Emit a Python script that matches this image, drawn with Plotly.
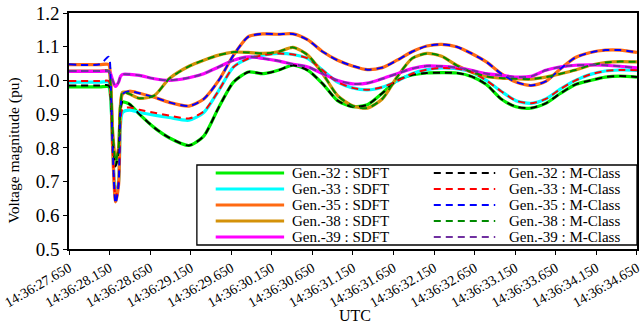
import plotly.graph_objects as go

# time in seconds after 14:36:00
T = [27.650, 28.029, 28.139, 28.163, 28.188, 28.224, 28.261, 28.285, 28.310,
     28.395, 28.517, 28.701, 28.884, 29.128, 29.311, 29.495, 29.678, 29.861,
     30.044, 30.228, 30.411, 30.594, 30.777, 30.960, 31.144, 31.327, 31.510,
     31.693, 31.877, 32.060, 32.243, 32.426, 32.610, 32.793, 32.976, 33.159,
     33.343, 33.526, 33.709, 33.892, 34.076, 34.259, 34.442, 34.650]

TICK_VALS = [27.65, 28.15, 28.65, 29.15, 29.65, 30.15, 30.65, 31.15, 31.65,
             32.15, 32.65, 33.15, 33.65, 34.15, 34.65]
TICK_LABELS = ["14:36:27.650", "14:36:28.150", "14:36:28.650", "14:36:29.150",
               "14:36:29.650", "14:36:30.150", "14:36:30.650", "14:36:31.150",
               "14:36:31.650", "14:36:32.150", "14:36:32.650", "14:36:33.150",
               "14:36:33.650", "14:36:34.150", "14:36:34.650"]

SDFT_32 = [0.981, 0.981, 0.981, 0.95, 0.83, 0.75, 0.79, 0.92, 0.936,
           0.93, 0.90, 0.86, 0.83, 0.807, 0.835, 0.92, 0.995, 1.025, 1.02, 1.03,
           1.045, 1.03, 0.99, 0.94, 0.922, 0.928, 0.962, 1.0, 1.016, 1.022, 1.023,
           1.022, 1.012, 0.988, 0.945, 0.922, 0.918, 0.932, 0.962, 0.988, 1.0,
           1.01, 1.013, 1.01]
SDFT_33 = [0.995, 0.995, 0.995, 0.96, 0.80, 0.66, 0.70, 0.87, 0.905,
           0.912, 0.905, 0.897, 0.89, 0.882, 0.905, 0.97, 1.04, 1.065, 1.075, 1.08,
           1.077, 1.065, 1.03, 0.995, 0.978, 0.972, 0.98, 0.998, 1.02, 1.032, 1.037,
           1.035, 1.025, 1.0, 0.968, 0.94, 0.932, 0.945, 0.975, 1.0, 1.018,
           1.028, 1.031, 1.03]
SDFT_35 = [1.047, 1.047, 1.047, 1.0, 0.80, 0.64, 0.69, 0.92, 0.96,
           0.968, 0.962, 0.95, 0.935, 0.924, 0.945, 1.0, 1.075, 1.13, 1.138, 1.137,
           1.138, 1.12, 1.085, 1.06, 1.043, 1.032, 1.038, 1.06, 1.085, 1.102, 1.107,
           1.1, 1.08, 1.055, 1.02, 0.995, 0.985, 0.997, 1.035, 1.068, 1.083,
           1.09, 1.09, 1.083]
SDFT_38 = [1.028, 1.028, 1.028, 0.99, 0.85, 0.765, 0.80, 0.93, 0.965,
           0.96, 0.947, 0.955, 1.005, 1.042, 1.06, 1.075, 1.084, 1.083, 1.08, 1.085,
           1.098, 1.075, 1.02, 0.955, 0.925, 0.918, 0.945, 1.01, 1.065, 1.08, 1.072,
           1.045, 1.025, 1.012, 1.007, 1.005, 1.004, 1.01, 1.02, 1.031, 1.045,
           1.053, 1.056, 1.055]
SDFT_39 = [1.027, 1.027, 1.027, 1.02, 1.0, 0.982, 0.995, 1.012, 1.018,
           1.018, 1.015, 1.005, 1.0, 1.008, 1.02, 1.04, 1.06, 1.07, 1.065, 1.058,
           1.048, 1.04, 1.02, 1.0, 0.99, 0.992, 1.005, 1.02, 1.035, 1.043, 1.042,
           1.038, 1.03, 1.02, 1.015, 1.01, 1.012, 1.03, 1.04, 1.045,
           1.046, 1.045, 1.042, 1.037]

MCLASS_32 = [0.985, 0.985, 0.985, 0.95, 0.83, 0.745, 0.79, 0.92, 0.936,
             0.93, 0.90, 0.86, 0.83, 0.807, 0.835, 0.92, 0.995, 1.025, 1.02, 1.03,
             1.045, 1.03, 0.99, 0.94, 0.922, 0.928, 0.962, 1.0, 1.016, 1.022, 1.023,
             1.022, 1.012, 0.988, 0.945, 0.922, 0.918, 0.932, 0.962, 0.988, 1.0,
             1.01, 1.013, 1.01]
MCLASS_33 = [0.998, 0.998, 0.998, 0.96, 0.80, 0.65, 0.70, 0.88, 0.915,
             0.92, 0.913, 0.904, 0.896, 0.887, 0.908, 0.97, 1.04, 1.065, 1.075, 1.08,
             1.077, 1.065, 1.03, 0.995, 0.978, 0.972, 0.98, 0.998, 1.02, 1.032, 1.037,
             1.035, 1.025, 1.0, 0.968, 0.94, 0.932, 0.945, 0.975, 1.0, 1.018,
             1.028, 1.031, 1.03]
MCLASS_35 = [1.048, 1.048, 1.07, 1.0, 0.80, 0.635, 0.69, 0.92, 0.96,
             0.968, 0.962, 0.95, 0.935, 0.924, 0.945, 1.0, 1.075, 1.13, 1.138, 1.137,
             1.138, 1.12, 1.085, 1.06, 1.043, 1.032, 1.038, 1.06, 1.085, 1.102, 1.107,
             1.1, 1.08, 1.055, 1.02, 0.995, 0.985, 0.997, 1.035, 1.068, 1.083,
             1.09, 1.09, 1.083]
MCLASS_38 = [1.028, 1.028, 1.028, 0.99, 0.85, 0.76, 0.80, 0.93, 0.965,
             0.96, 0.947, 0.955, 1.005, 1.042, 1.06, 1.075, 1.084, 1.083, 1.08, 1.085,
             1.098, 1.075, 1.02, 0.955, 0.925, 0.918, 0.945, 1.01, 1.065, 1.08, 1.072,
             1.045, 1.025, 1.012, 1.007, 1.005, 1.004, 1.01, 1.02, 1.031, 1.045,
             1.053, 1.056, 1.055]
MCLASS_39 = [1.028, 1.028, 1.028, 1.02, 1.0, 0.982, 0.995, 1.012, 1.018,
             1.018, 1.015, 1.005, 1.0, 1.008, 1.02, 1.04, 1.06, 1.07, 1.065, 1.058,
             1.048, 1.04, 1.02, 1.0, 0.99, 0.992, 1.005, 1.02, 1.035, 1.043, 1.042,
             1.038, 1.03, 1.02, 1.015, 1.01, 1.012, 1.03, 1.04, 1.045,
             1.046, 1.045, 1.042, 1.037]

GENS = ["32", "33", "35", "38", "39"]
SDFT = [SDFT_32, SDFT_33, SDFT_35, SDFT_38, SDFT_39]
MCLASS = [MCLASS_32, MCLASS_33, MCLASS_35, MCLASS_38, MCLASS_39]
SDFT_COLORS = ["#00ee00", "#00ffff", "#ff6a13", "#d4920a", "#ff00ff"]
MCLASS_COLORS = ["#000000", "#ff0000", "#0000ff", "#008a00", "#7030a0"]
SDFT_NAMES = [f"Gen.-{g} : SDFT" for g in GENS]
MCLASS_NAMES = [f"Gen.-{g} : M-Class" for g in GENS]

FONT = "Times New Roman, Liberation Serif, serif"
W, H = 643, 328
ML, MR, MT, MB = 69, 1, 13, 79
PW, PH = W - ML - MR, H - MT - MB


def px(xp):
    return (xp - ML) / PW


def py(yp):
    return (H - MB - yp) / PH


fig = go.Figure()
for i in range(5):
    fig.add_trace(go.Scatter(
        x=T, y=SDFT[i], mode="lines", name=SDFT_NAMES[i],
        line=dict(color=SDFT_COLORS[i], width=3.2, shape="spline", smoothing=0.7)))
for i in range(5):
    fig.add_trace(go.Scatter(
        x=T, y=MCLASS[i], mode="lines", name=MCLASS_NAMES[i],
        line=dict(color=MCLASS_COLORS[i], width=2, dash="7px,5px",
                  shape="spline", smoothing=0.7)))

# legend drawn as a box with line samples and text
shapes = [dict(type="rect", xref="paper", yref="paper",
               x0=px(198), x1=px(642), y0=py(245), y1=py(165), layer="above",
               fillcolor="white", line=dict(color="black", width=1.3))]
annotations = []
ROW_Y = [173, 189, 205, 221, 237]
for i in range(5):
    yy = py(ROW_Y[i])
    shapes.append(dict(type="line", xref="paper", yref="paper", layer="above",
                       x0=px(217), x1=px(286), y0=yy, y1=yy,
                       line=dict(color=SDFT_COLORS[i], width=3)))
    shapes.append(dict(type="line", xref="paper", yref="paper", layer="above",
                       x0=px(437), x1=px(499), y0=yy, y1=yy,
                       line=dict(color=MCLASS_COLORS[i], width=2, dash="7px,5px")))
    annotations.append(dict(text=SDFT_NAMES[i], xref="paper", yref="paper",
                            x=px(292), y=yy, xanchor="left", yanchor="middle",
                            showarrow=False, font=dict(family=FONT, size=15)))
    annotations.append(dict(text=MCLASS_NAMES[i], xref="paper", yref="paper",
                            x=px(511), y=yy, xanchor="left", yanchor="middle",
                            showarrow=False, font=dict(family=FONT, size=15)))

annotations.append(dict(text="Voltage magnitude (pu)", xref="paper", yref="paper",
                        x=px(14), y=py(150), xanchor="center", yanchor="middle",
                        textangle=-90, showarrow=False,
                        font=dict(family=FONT, size=15.5)))
annotations.append(dict(text="UTC", xref="paper", yref="paper",
                        x=px(358), y=py(315), xanchor="center", yanchor="middle",
                        showarrow=False, font=dict(family=FONT, size=16)))

fig.update_layout(
    width=W, height=H,
    margin=dict(l=ML, r=MR, t=MT, b=MB),
    paper_bgcolor="white", plot_bgcolor="white",
    font=dict(family=FONT, color="black", size=15),
    showlegend=False,
    shapes=shapes, annotations=annotations,
    xaxis=dict(
        range=[27.65, 34.6502], tickmode="array", tickvals=TICK_VALS,
        ticktext=TICK_LABELS, tickangle=-30, ticks="outside", ticklen=4,
        tickwidth=1, tickcolor="black", showgrid=False, zeroline=False,
        showline=True, linecolor="black", linewidth=1.5, mirror=True,
        tickfont=dict(family=FONT, size=14), ticklabeloverflow="allow",
    ),
    yaxis=dict(
        range=[0.5, 1.2], dtick=0.1, tickformat=".1f", ticks="outside",
        ticklen=4, tickwidth=1, tickcolor="black", showgrid=False,
        zeroline=False, showline=True, linecolor="black", linewidth=1.5,
        mirror=True, tickfont=dict(family=FONT, size=19),
    ),
)
fig.write_html("out.html")
